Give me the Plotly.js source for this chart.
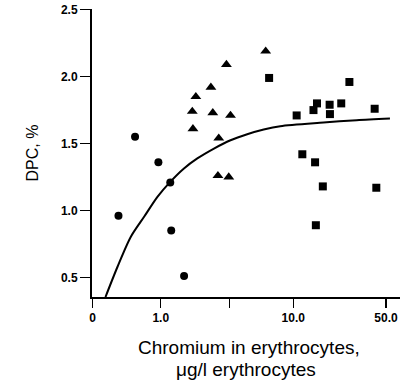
<!DOCTYPE html>
<html>
<head>
<meta charset="utf-8">
<script src="https://cdn.plot.ly/plotly-3.0.1.min.js"></script>
<style>html,body{margin:0;padding:0;background:#fff}#chart{width:404px;height:381px}</style>
</head>
<body>
<div id="chart"></div>
<script>
// Data (x: chromium, µg/l erythrocytes; y: DPC, %)
const circleX = [0.64, 0.96, 1.18, 0.48, 1.20, 1.50];
const circleY = [1.55, 1.36, 1.21, 0.96, 0.85, 0.51];

const triangleX = [6.19, 3.13, 2.39, 1.84, 1.73, 2.47, 3.36, 1.75, 2.74, 2.70, 3.26];
const triangleY = [2.19, 2.09, 1.92, 1.85, 1.74, 1.73, 1.71, 1.61, 1.54, 1.26, 1.25];

const squareX = [6.57, 26.5, 15.1, 14.2, 18.8, 23.0, 18.9, 10.6, 41.1, 11.7, 14.6, 16.7, 42.3, 14.8];
const squareY = [1.99, 1.96, 1.80, 1.75, 1.79, 1.80, 1.72, 1.71, 1.76, 1.42, 1.36, 1.18, 1.17, 0.89];

const curveX = [0.383, 0.472, 0.595, 0.749, 0.944, 1.175, 1.497, 1.888, 2.52, 3.36, 4.49, 5.98, 7.98, 16.9, 30.1, 53.6];
const curveY = [0.354, 0.580, 0.804, 0.953, 1.102, 1.212, 1.314, 1.389, 1.463, 1.525, 1.570, 1.605, 1.630, 1.657, 1.675, 1.687];

const xTickVals = [0.306, 1, 3.3, 10, 50];
const xTickText = ["0", "1.0", "", "10.0", "50.0"];
const yTickVals = [0.5, 1.0, 1.5, 2.0, 2.5];
const yTickText = ["0.5", "1.0", "1.5", "2.0", "2.5"];

const FONT = "Liberation Sans, Arial, Helvetica, sans-serif";

const traces = [
  {x: curveX, y: curveY, type: "scatter", mode: "lines", line: {color: "#000", width: 2, shape: "spline", smoothing: 0.8}, hoverinfo: "skip"},
  {x: circleX, y: circleY, type: "scatter", mode: "markers", marker: {symbol: "circle", size: 8, color: "#000"}},
  {x: triangleX, y: triangleY, type: "scatter", mode: "markers", marker: {symbol: "triangle-up", size: 9.5, color: "#000"}},
  {x: squareX, y: squareY, type: "scatter", mode: "markers", marker: {symbol: "square", size: 8, color: "#000"}}
];

const layout = {
  width: 404, height: 381,
  margin: {l: 92, r: 4, t: 9, b: 84},
  paper_bgcolor: "#fff", plot_bgcolor: "#fff",
  showlegend: false,
  font: {family: FONT, color: "#000"},
  xaxis: {
    type: "log",
    range: [Math.log10(0.303), 1.805],
    tickmode: "array", tickvals: xTickVals, ticktext: xTickText,
    ticks: "outside", ticklen: 9, tickwidth: 1.5, tickcolor: "#000",
    showline: true, linecolor: "#000", linewidth: 2,
    showgrid: false, zeroline: false,
    tickfont: {family: FONT, size: 12, weight: "bold", color: "#000"},
    title: {text: ""}
  },
  yaxis: {
    type: "linear",
    range: [0.354, 2.505],
    tickmode: "array", tickvals: yTickVals, ticktext: yTickText,
    ticks: "outside", ticklen: 10, tickwidth: 1.5, tickcolor: "#000",
    showline: true, linecolor: "#000", linewidth: 2,
    showgrid: false, zeroline: false,
    tickfont: {family: FONT, size: 12, weight: "bold", color: "#000"},
    title: {text: "DPC, %", font: {family: FONT, size: 16, color: "#000"}, standoff: 18}
  },
  annotations: [
    {text: "Chromium in erythrocytes,", xref: "paper", yref: "paper", x: 0.51, y: -0.175, xanchor: "center", yanchor: "middle", showarrow: false, font: {family: FONT, size: 19, color: "#000"}},
    {text: "μg/l erythrocytes", xref: "paper", yref: "paper", x: 0.5, y: -0.25, xanchor: "center", yanchor: "middle", showarrow: false, font: {family: FONT, size: 19, color: "#000"}}
  ]
};

Plotly.newPlot("chart", traces, layout, {displayModeBar: false, staticPlot: true});
</script>
</body>
</html>
